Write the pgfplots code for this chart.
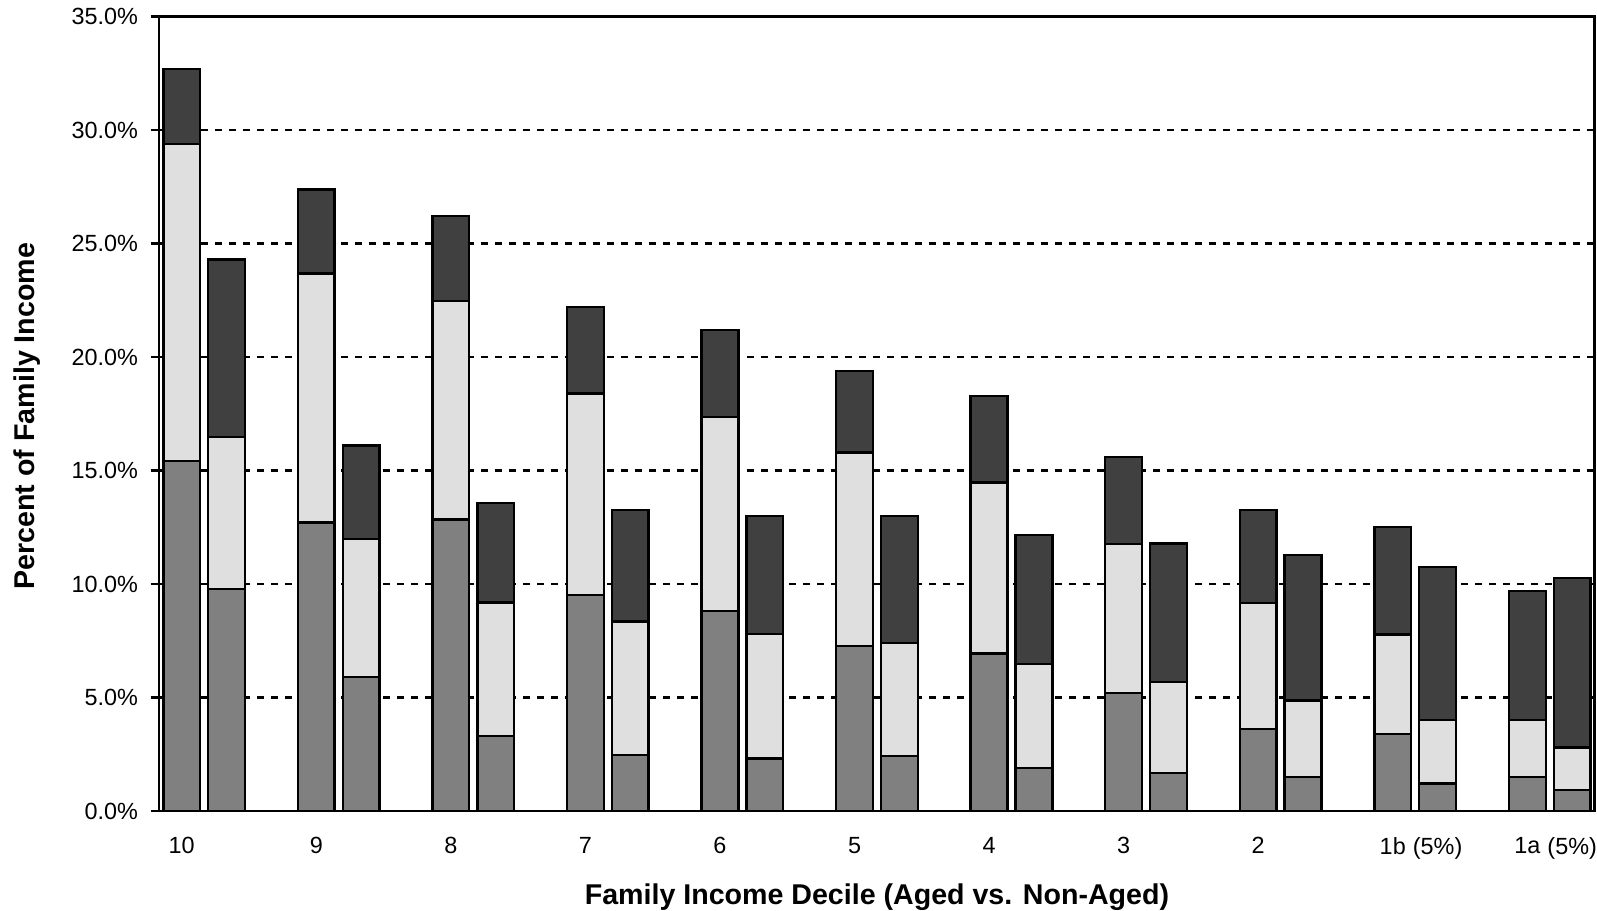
\documentclass[border=0pt]{standalone}
\usepackage{fontspec}
\setmainfont{Liberation Sans}
\usepackage{pgfplots}
\pgfplotsset{compat=1.18}
\usepackage{pgfplotstable}

\definecolor{segbottom}{HTML}{808080}
\definecolor{segmid}{HTML}{DFDFDF}
\definecolor{segtop}{HTML}{404040}

% x: bar position (aged at 3k, non-aged at 3k+1), b/m/t: stacked segments (%)
\pgfplotstableread{
x  b     m     t
0  15.41 13.98 3.29
1  9.78  6.69  7.82
3  12.71 10.97 3.70
4  5.91  6.08  4.11
6  12.84 9.63  3.74
7  3.31  5.87  4.39
9  9.52  8.88  3.79
10 2.47  5.88  4.92
12 8.80  8.55  3.83
13 2.32  5.48  5.20
15 7.27  8.53  3.58
16 2.41  4.98  5.61
18 6.94  7.54  3.81
19 1.89  4.58  5.70
21 5.20  6.57  3.82
22 1.67  4.02  6.09
24 3.61  5.56  4.10
25 1.50  3.37  6.40
27 3.40  4.38  4.72
28 1.22  2.80  6.74
30 1.50  2.52  5.67
31 0.93  1.86  7.47
}\deciles

\begin{document}
\begin{tikzpicture}
\useasboundingbox (-79.65pt,-50pt) rectangle (718.85pt,405.5pt);
\begin{axis}[
    scale only axis,
    width=717.65pt, height=397.25pt,
    xmin=-0.5, xmax=31.5,
    ymin=0, ymax=35,
    enlargelimits=false,
    ybar stacked,
    bar width=0.82,
    axis line style={line width=1.2pt},
    ytick={0,5,...,35},
    yticklabels={0.0\%,5.0\%,10.0\%,15.0\%,20.0\%,25.0\%,30.0\%,35.0\%},
    xtick={0,3,6,9,12,15,18,21,24,27,28,30,31},
    xticklabels={10,9,8,7,6,5,4,3,2,1b,(5\%),1a,(5\%)},
    tick align=outside,
    ytick pos=left,
    xtick pos=bottom,
    major tick length=4.3pt,
    ytick style={line width=1.2pt, black},
    xtick style={draw=none},
    ymajorgrids=true,
    major grid style={black, line width=1.2pt, dash pattern=on 3.3pt off 3.7pt},
    tick label style={font=\fontsize{11.7}{14}\selectfont},
    yticklabel style={inner sep=0pt, anchor=east, xshift=-6.2pt},
    xticklabel style={inner sep=0pt, anchor=north, yshift=-8.7pt},
    xlabel={Family Income Decile (Aged vs. Non-Aged)},
    ylabel={Percent of Family Income},
    label style={font=\bfseries\fontsize{14.3}{17}\selectfont},
    xlabel style={at={(axis description cs:0.5,0)}, anchor=base, yshift=-46.5pt},
    ylabel style={at={(axis description cs:-0.0873,0.497)}, anchor=base},
]
\addplot[fill=segbottom, draw=black, line width=1.2pt] table[x=x, y=b] {\deciles};
\addplot[fill=segmid, draw=black, line width=1.2pt] table[x=x, y=m] {\deciles};
\addplot[fill=segtop, draw=black, line width=1.2pt] table[x=x, y=t] {\deciles};
\end{axis}
\end{tikzpicture}
\end{document}
